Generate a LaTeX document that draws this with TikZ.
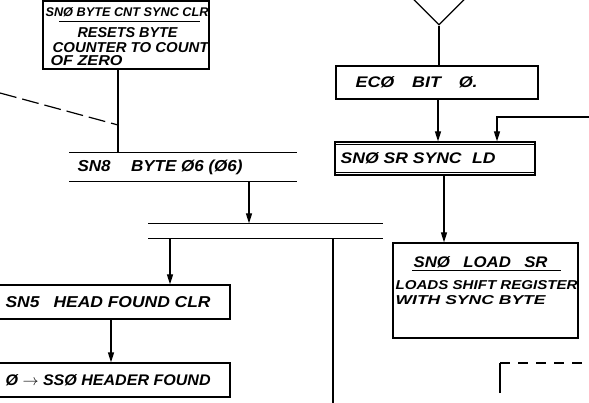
\documentclass[tikz,border=0pt]{standalone}
\usepackage{graphicx}
\usepackage{fontspec}
\setmainfont{Liberation Sans}
\usetikzlibrary{arrows.meta,shapes.geometric,calc}
\newcommand{\hw}[3]{\resizebox{#1pt}{#2pt}{\bfseries\itshape #3}}
\begin{document}
\begin{tikzpicture}[x=1pt,y=-1pt, line width=1.2pt,
  box/.style={draw, rectangle, inner sep=0pt},
  bar/.style={inner sep=0pt},
  txt/.style={inner sep=0pt, anchor=west},
  arr/.style={-{Triangle[length=10pt,width=6pt]}},
  dashline/.style={dash pattern=on 17pt off 6pt},
  dashcorner/.style={dash pattern=on 10pt off 8pt}]
\useasboundingbox (0,0) rectangle (589,403);
\clip (0,0) rectangle (589,403);
\fill[white] (0,0) rectangle (589,403);

% boxes
\node[box, minimum width=166pt, minimum height=68pt] (top) at (126,35) {};
\node[bar, minimum width=226pt, minimum height=28pt] (sn8) at (183,167) {};
\node[bar, minimum width=233pt, minimum height=14pt] (bus) at (265.5,231) {};
\node[box, minimum width=240pt, minimum height=34pt] (sn5) at (110,302) {};
\node[box, minimum width=240pt, minimum height=34pt] (hdr) at (110,380) {};
\node[draw, diamond, minimum width=80pt, minimum height=80pt, inner sep=0pt] (dia) at (439,-15) {};
\node[box, minimum width=202pt, minimum height=33pt] (ec) at (437,82.5) {};
\node[box, minimum width=200pt, minimum height=33pt] (sync) at (435,158.5) {};
\node[box, minimum width=185pt, minimum height=95pt] (load) at (485.5,290.5) {};

% bar lines
\draw (sn8.north west) -- (sn8.north east);
\draw (sn8.south west) -- (sn8.south east);
\draw (bus.north west) -- (bus.north east);
\draw (bus.south west) -- (bus.south east);
\draw[line width=0.8pt] ($(sync.north west)+(0,3)$) -- ($(sync.north east)+(0,3)$);
\draw[line width=0.8pt] ($(sync.south west)+(0,-3)$) -- ($(sync.south east)+(0,-3)$);
% underlines
\draw ($(top.north west)+(17,21)$) -- ($(top.north east)+(-10,21)$);
\draw ($(load.north west)+(20,28)$) -- ($(load.north east)+(-18,28)$);

% texts
\node[txt] (t1) at (45,12) {\hw{163}{9}{SNØ BYTE CNT SYNC CLR}};
\node[txt] (t2) at (77,33) {\hw{100}{10}{RESETS BYTE}};
\node[txt] (t3) at (52,48) {\hw{156}{10}{COUNTER TO COUNT}};
\node[txt] (t4) at (50,61) {\hw{72}{10}{OF ZERO}};
\node[txt] (t5) at (77,167) {\hw{165}{11.5}{SN8\hspace{1.2em}BYTE Ø6 (Ø6)}};
\node[txt] (t6) at (5,302) {\hw{205}{11}{SN5\hspace{0.8em}HEAD FOUND CLR}};
\node[txt] (t7) at (5,380) {\hw{205}{11}{Ø $\rightarrow$ SSØ HEADER FOUND}};
\node[txt] (t8) at (355,82) {\hw{122}{11}{ECØ\hspace{1em}BIT\hspace{1em}Ø.}};
\node[txt] (t9) at (340,158) {\hw{155}{11}{SNØ SR SYNC\hspace{0.6em}LD}};
\node[txt] (t10) at (413,262) {\hw{134}{11}{SNØ\hspace{0.8em}LOAD\hspace{0.8em}SR}};
\node[txt] (t11) at (395,285) {\hw{182}{9}{LOADS SHIFT REGISTER}};
\node[txt] (t12) at (395,300) {\hw{150}{9}{WITH SYNC BYTE}};

% connectors
\coordinate (xa) at (118,0);
\draw (xa |- top.south) -- (xa |- sn8.north);
\coordinate (d0) at (0,93);
\coordinate (d1) at (118,125);
\draw[dashline] (d0) -- (d1);
\coordinate (xb) at (249,0);
\draw[arr] (xb |- sn8.south) -- (xb |- bus.north);
\coordinate (xc) at (170,0);
\draw[arr] (xc |- bus.south) -- (xc |- sn5.north);
\coordinate (bot) at (333,403);
\draw (bot |- bus.south) -- (bot);
\coordinate (xd) at (111,0);
\draw[arr] (xd |- sn5.south) -- (xd |- hdr.north);
\draw (dia.south) -- (dia.south |- ec.north);
\coordinate (xe) at (438,0);
\draw[arr] (xe |- ec.south) -- (xe |- sync.north);
\coordinate (fe) at (589,117);
\coordinate (xf) at (497,0);
\draw[arr] (fe) -- (xf |- fe) -- (xf |- sync.north);
\coordinate (xg) at (444,0);
\draw[arr] (xg |- sync.south) -- (xg |- load.north);
\coordinate (k0) at (500,393);
\coordinate (k1) at (500,363);
\coordinate (k2) at (589,363);
\draw (k0) -- (k1);
\draw[dashcorner] (k1) -- (k2);
\end{tikzpicture}
\end{document}
